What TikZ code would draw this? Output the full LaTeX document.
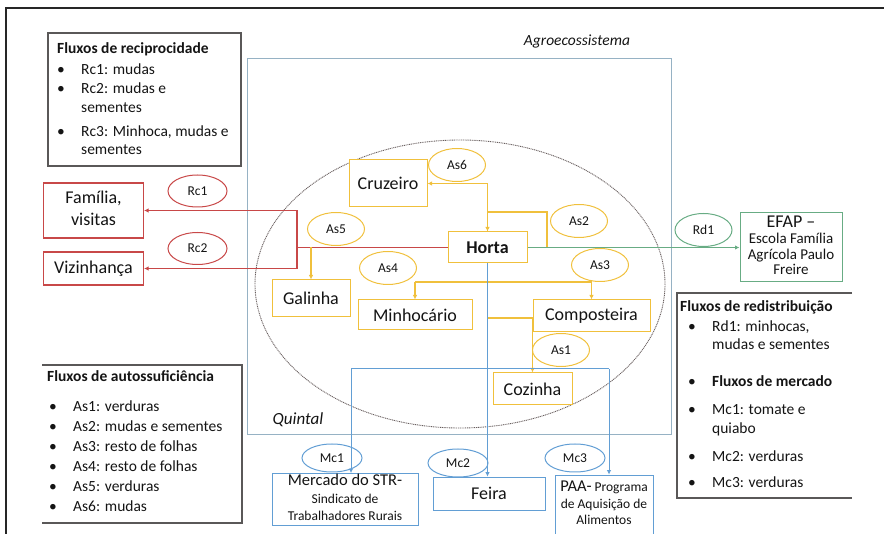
\documentclass[tikz,border=0pt]{standalone}
\usepackage{fontspec}
\setmainfont{Carlito}
\usepackage{xcolor}
\usepackage{tikz}
\usetikzlibrary{shapes.geometric,arrows.meta}

\definecolor{flowyellow}{RGB}{240,192,60}
\definecolor{flowred}{RGB}{200,72,72}
\definecolor{flowblue}{RGB}{98,158,212}
\definecolor{flowgreen}{RGB}{104,172,132}
\definecolor{agroline}{RGB}{150,178,196}
\definecolor{listline}{RGB}{90,88,88}
\definecolor{quintalline}{RGB}{105,95,95}
\definecolor{inktext}{RGB}{20,20,20}

\newcommand{\itm}[1]{\makebox[24pt][l]{\textbullet}#1}
\newcommand{\cnt}{\hspace*{24pt}}

\begin{document}
\begin{tikzpicture}[x=1pt,y=-1pt,>={Latex[length=4.5pt,width=4.5pt]},
  every node/.style={text=inktext},
  boxy/.style={draw=flowyellow,fill=white,line width=1pt,inner sep=0pt,font=\fontsize{18}{21}\selectfont},
  boxr/.style={draw=flowred,fill=white,line width=1.2pt,inner sep=0pt,font=\fontsize{18}{22}\selectfont},
  boxb/.style={draw=flowblue,fill=white,line width=0.8pt,inner sep=0pt},
  boxg/.style={draw=flowgreen,fill=white,line width=1pt,inner sep=0pt},
  tag/.style={ellipse,line width=1pt,inner sep=0pt,minimum width=57pt,minimum height=33pt,font=\fontsize{13.5}{16}\selectfont},
  tagy/.style={tag,draw=flowyellow},
  tagr/.style={tag,draw=flowred,minimum width=59pt,minimum height=32pt},
  tagb/.style={tag,draw=flowblue,minimum width=60pt,minimum height=28pt},
  tagg/.style={tag,draw=flowgreen,minimum height=33pt},
  flowy/.style={draw=flowyellow,line width=1.2pt},
  flowr/.style={draw=flowred,line width=1.2pt},
  flowb/.style={draw=flowblue,line width=1pt},
  flowg/.style={draw=flowgreen,line width=1.2pt},
  listtext/.style={anchor=base west,inner sep=0pt,font=\fontsize{15.5}{18}\selectfont}]
\useasboundingbox (0,0) rectangle (884,534);
% frame
\draw[line width=1.2pt, black!85] (6,534) -- (6,8) -- (884,8);

% agroecossistema and quintal
\draw[agroline, line width=1pt] (247,59) rectangle (671,435);
\node[font=\itshape\fontsize{15.5}{18}\selectfont] (agro) at (577,42) {Agroecossistema};
\draw[quintalline, dash pattern=on 1pt off 0.8pt, line width=0.9pt] (460,284) ellipse [x radius=205, y radius=144];
\node[font=\itshape\fontsize{17}{20}\selectfont] (quintal) at (298,420) {Quintal};

% legend boxes
\draw[listline, line width=1.2pt] (48,33) rectangle (241,166);
\node[listtext] (rclist) at (57,54) {\begin{tabular}[t]{@{}l@{}}
  \textbf{Fluxos de reciprocidade}\\[3pt]
  \itm{Rc1: mudas}\\[1pt]
  \itm{Rc2: mudas e}\\[1pt]
  \cnt sementes\\[6pt]
  \itm{Rc3: Minhoca, mudas e}\\
  \cnt sementes
\end{tabular}};

\draw[listline, line width=1.2pt] (42,365) -- (242,365) -- (242,523) -- (42,523);
\node[listtext] (aslist) at (47,382) {\begin{tabular}[t]{@{}l@{}}
  \textbf{Fluxos de autossuficiência}\\[12pt]
  \hspace*{2pt}\itm{As1: verduras}\\[2pt]
  \hspace*{2pt}\itm{As2: mudas e sementes}\\[2pt]
  \hspace*{2pt}\itm{As3: resto de folhas}\\[2pt]
  \hspace*{2pt}\itm{As4: resto de folhas}\\[2pt]
  \hspace*{2pt}\itm{As5: verduras}\\[2pt]
  \hspace*{2pt}\itm{As6: mudas}
\end{tabular}};

\draw[listline, line width=1.2pt] (852,293) -- (677,293) -- (677,498) -- (852,498);
\node[listtext] (rdlist) at (680,312) {\begin{tabular}[t]{@{}l@{}}
  \textbf{Fluxos de redistribuição}\\[2pt]
  \hspace*{8pt}\itm{Rd1: minhocas,}\\
  \hspace*{8pt}\cnt mudas e sementes\\[19pt]
  \hspace*{8pt}\itm{\textbf{Fluxos de mercado}}\\[10pt]
  \hspace*{8pt}\itm{Mc1: tomate e}\\[1pt]
  \hspace*{8pt}\cnt quiabo\\[10pt]
  \hspace*{8pt}\itm{Mc2: verduras}\\[8pt]
  \hspace*{8pt}\itm{Mc3: verduras}
\end{tabular}};

% quintal boxes
\node[boxy, minimum width=78pt, minimum height=47pt] (cruz) at (388,183.5) {Cruzeiro};
\node[boxy, minimum width=79pt, minimum height=31pt, font=\bfseries\fontsize{18}{21}\selectfont] (horta) at (487.5,247.5) {Horta};
\node[boxy, minimum width=78pt, minimum height=37pt] (galinha) at (311,298.5) {Galinha};
\node[boxy, minimum width=114pt, minimum height=30pt] (minho) at (415,315) {Minhocário};
\node[boxy, minimum width=117pt, minimum height=32pt] (compo) at (591.5,316) {Composteira};
\node[boxy, minimum width=79pt, minimum height=32pt] (cozinha) at (532.5,389) {Cozinha};

% outside boxes
\node[boxr, minimum width=100pt, minimum height=55pt] (familia) at (93.5,210.5) {\begin{tabular}{@{}c@{}}Família,\\visitas\end{tabular}};
\node[boxr, minimum width=100pt, minimum height=33pt] (vizinha) at (93.5,268.5) {Vizinhança};
\node[boxg, minimum width=102pt, minimum height=69pt, font=\fontsize{15}{15.5}\selectfont] (efap) at (791,247.5) {\begin{tabular}{@{}c@{}}{\fontsize{18}{20}\selectfont EFAP –}\\[1pt]Escola Família\\Agrícola Paulo\\Freire\end{tabular}};
\node[boxb, minimum width=146pt, minimum height=51pt, font=\fontsize{13.5}{17}\selectfont] (mercado) at (345,499.5) {\begin{tabular}{@{}c@{}}{\fontsize{16.5}{18}\selectfont Mercado do STR-}\\[1pt]Sindicato de\\Trabalhadores Rurais\end{tabular}};
\node[boxb, minimum width=112pt, minimum height=33pt, font=\fontsize{18}{21}\selectfont] (feira) at (489,493.5) {Feira};
\node[boxb, minimum width=98pt, minimum height=60pt, font=\fontsize{13.5}{16.5}\selectfont] (paa) at (604,505) {\begin{tabular}{@{}c@{}}{\fontsize{16.5}{18}\selectfont PAA-} Programa\\de Aquisição de\\Alimentos\end{tabular}};

% flow tags
\node[tagy] (as6) at (457,165) {As6};
\node[tagy] (as5) at (336,229) {As5};
\node[tagy] (as2) at (579,221) {As2};
\node[tagy] (as4) at (388,268) {As4};
\node[tagy] (as3) at (600,265) {As3};
\node[tagy] (as1) at (561,350) {As1};
\node[tagr] (rc1) at (197.5,191) {Rc1};
\node[tagr] (rc2) at (197.5,248.5) {Rc2};
\node[tagg] (rd1) at (703.5,230) {Rd1};
\node[tagb] (mc1) at (332,458) {Mc1};
\node[tagb] (mc2) at (458,463) {Mc2};
\node[tagb] (mc3) at (575,458) {Mc3};

% reciprocity flows
\coordinate (rcfork) at (297,247.5);
\draw[flowr] (horta.west) -- (rcfork);
\draw[flowr,->] (rcfork) |- (familia.east);
\draw[flowr,->] (rcfork) |- (vizinha.east);

% self-sufficiency flows
\draw[flowy,->] (horta.north) |- (cruz.east);
\coordinate (as2loop) at (547,212);
\draw[flowy,->] (as2loop |- horta.east) -- (as2loop) -| (horta.north);
\draw[flowy,->] (rcfork -| galinha.north) -- (galinha.north);
\coordinate (as34) at (488,282);
\draw[flowy] (as34 -| minho.north) -- (as34 -| compo.north);
\draw[flowy,->] (as34 -| minho.north) -- (minho.north);
\draw[flowy,->] (as34 -| compo.north) -- (compo.north);
\coordinate (as1fork) at (488,318);
\draw[flowy,->] (as1fork) -| (cozinha.north);

% market flows
\draw[flowb,->] (horta.south) -- (horta.south |- feira.north);
\coordinate (mcleft) at (351,369);
\coordinate (mcright) at (609,369);
\draw[flowb] (mcleft) -- (mcright);
\draw[flowb,->] (mcleft) -- (mcleft |- mercado.north);
\draw[flowb,->] (mcright) -- (mcright |- paa.north);

% redistribution flow
\draw[flowg,->] (horta.east) -- (efap.west);
\end{tikzpicture}
\end{document}
